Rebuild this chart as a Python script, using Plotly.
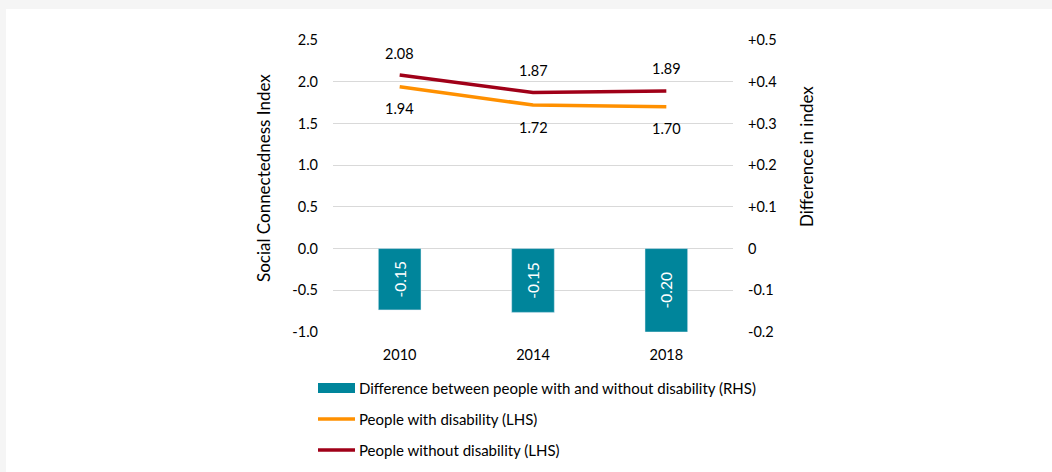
import plotly.graph_objects as go

years = ["2010", "2014", "2018"]
with_disability = [1.94, 1.72, 1.70]
without_disability = [2.08, 1.87, 1.89]
difference = [-0.147, -0.153, -0.200]

left_ticks = [-1.0, -0.5, 0.0, 0.5, 1.0, 1.5, 2.0, 2.5]
left_ticktext = ["-1.0", "-0.5", "0.0", "0.5", "1.0", "1.5", "2.0", "2.5"]
right_ticks = [-0.2, -0.1, 0.0, 0.1, 0.2, 0.3, 0.4, 0.5]
right_ticktext = ["-0.2", "-0.1", "0", "+0.1", "+0.2", "+0.3", "+0.4", "+0.5"]

legend_labels = [
    "Difference between people with and without disability (RHS)",
    "People with disability (LHS)",
    "People without disability (LHS)",
]

TEAL = "#00859B"
ORANGE = "#FF9000"
DARKRED = "#A00018"
FONT = "Lato"
FS = 14.5
FS_LEG = 15
FS_TITLE = 17

W, H = 1052, 472
ML, MR, MT, MB = 333, 319, 40, 140
PW = W - ML - MR
PH = H - MT - MB


def px(x):
    return (x - ML) / PW


def py(y):
    return (H - MB - y) / PH


fig = go.Figure()

fig.add_trace(go.Bar(
    x=years, y=difference, yaxis="y2", marker_color=TEAL,
    text=[f"{v:.2f}" for v in difference], textposition="inside",
    insidetextanchor="middle", textangle=-90,
    textfont=dict(color="white", size=15.5, family=FONT),
    showlegend=False,
))
fig.add_trace(go.Scatter(
    x=years, y=with_disability, mode="lines",
    line=dict(color=ORANGE, width=3.5), showlegend=False,
))
fig.add_trace(go.Scatter(
    x=years, y=without_disability, mode="lines",
    line=dict(color=DARKRED, width=3.5), showlegend=False,
))

annotations = []
for i, v in enumerate(without_disability):
    annotations.append(dict(x=i, y=v, xref="x", yref="y", text=f"{v:.2f}",
                            showarrow=False, yshift=22,
                            font=dict(size=FS, family=FONT, color="#000")))
for i, v in enumerate(with_disability):
    annotations.append(dict(x=i, y=v, xref="x", yref="y", text=f"{v:.2f}",
                            showarrow=False, yshift=-22,
                            font=dict(size=FS, family=FONT, color="#000")))

# axis titles
annotations.append(dict(x=px(263), y=py(178), xref="paper", yref="paper",
                        text="Social Connectedness Index", textangle=-90,
                        showarrow=False, xanchor="center", yanchor="middle",
                        font=dict(size=FS_TITLE, family=FONT, color="#000")))
annotations.append(dict(x=px(806), y=py(157), xref="paper", yref="paper",
                        text="Difference in index", textangle=-90,
                        showarrow=False, xanchor="center", yanchor="middle",
                        font=dict(size=FS_TITLE, family=FONT, color="#000")))

shapes = []
# light gray frame strips (top and left)
shapes.append(dict(type="rect", xref="paper", yref="paper",
                   x0=px(0), x1=px(W), y0=py(9), y1=py(0),
                   fillcolor="#F5F5F5", line=dict(width=0)))
shapes.append(dict(type="rect", xref="paper", yref="paper",
                   x0=px(0), x1=px(6), y0=py(H), y1=py(0),
                   fillcolor="#F5F5F5", line=dict(width=0)))

# custom legend
legend_rows = [388, 419, 450]
sw_x0, sw_x1 = 318, 355
shapes.append(dict(type="rect", xref="paper", yref="paper",
                   x0=px(sw_x0), x1=px(sw_x1), y0=py(legend_rows[0] + 5), y1=py(legend_rows[0] - 5),
                   fillcolor=TEAL, line=dict(width=0)))
shapes.append(dict(type="line", xref="paper", yref="paper",
                   x0=px(sw_x0), x1=px(sw_x1), y0=py(legend_rows[1]), y1=py(legend_rows[1]),
                   line=dict(color=ORANGE, width=3.5)))
shapes.append(dict(type="line", xref="paper", yref="paper",
                   x0=px(sw_x0), x1=px(sw_x1), y0=py(legend_rows[2]), y1=py(legend_rows[2]),
                   line=dict(color=DARKRED, width=3.5)))
for label, ry in zip(legend_labels, legend_rows):
    annotations.append(dict(x=px(357), y=py(ry), xref="paper", yref="paper",
                            text=label, showarrow=False, xanchor="left", yanchor="middle",
                            font=dict(size=FS_LEG, family=FONT, color="#000")))

fig.update_layout(
    width=W, height=H,
    margin=dict(l=ML, r=MR, t=MT, b=MB, pad=0),
    paper_bgcolor="white", plot_bgcolor="white",
    font=dict(family=FONT, size=FS, color="#000"),
    bargap=0.68,
    showlegend=False,
    xaxis=dict(type="category", range=[-0.5, 2.5], showline=False, ticks="",
               showgrid=False, ticklabelstandoff=12,
               tickfont=dict(size=FS, family=FONT)),
    yaxis=dict(range=[-1.0, 2.5], tickvals=left_ticks, ticktext=left_ticktext,
               showgrid=True, gridcolor="#D9D9D9", gridwidth=1,
               zeroline=False, showline=False, ticks="",
               ticklabelstandoff=14, tickfont=dict(size=FS, family=FONT)),
    yaxis2=dict(range=[-0.2, 0.5], overlaying="y", side="right",
                tickvals=right_ticks, ticktext=right_ticktext,
                showgrid=False, zeroline=False, showline=False, ticks="",
                ticklabelstandoff=14, tickfont=dict(size=FS, family=FONT)),
    annotations=annotations,
    shapes=shapes,
)

fig.write_html("out.html", config={"displayModeBar": False},
               post_script="document.body.style.margin='0';")
